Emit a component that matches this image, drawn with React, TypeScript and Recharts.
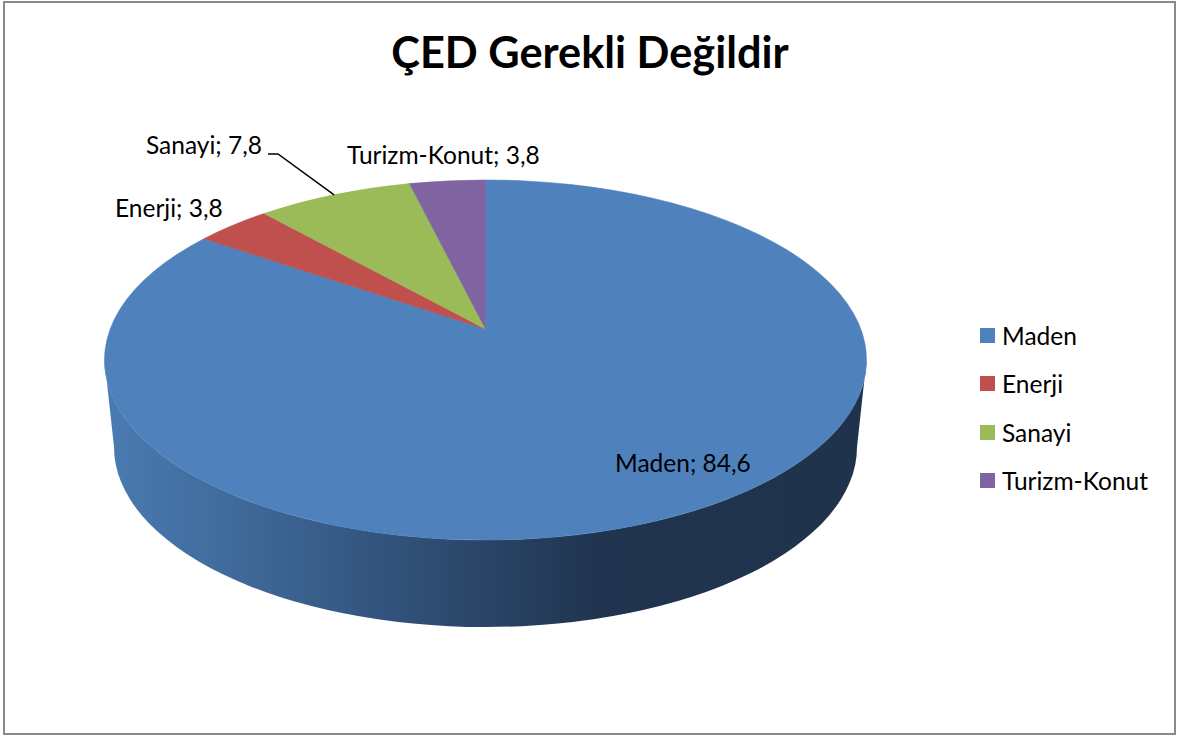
import { Legend, Pie, PieChart } from 'recharts';

const chartTitle = 'ÇED Gerekli Değildir';
const categories = ['Maden', 'Enerji', 'Sanayi', 'Turizm-Konut'];
const shares = [84.6, 3.8, 7.8, 3.8];
const sliceColors = ['#4f81bd', '#c0504d', '#9bbb59', '#8064a2'];

// left edge and baseline of each data label, same order as categories
const labelX = [615, 115, 146, 347];
const labelY = [472, 217, 154, 164];

const pieData = categories.map((name, i) => ({ name, value: shares[i], fill: sliceColors[i] }));

const FONT = 'Lato, sans-serif';
const FLATTEN = 180 / 381; // ellipse height / width of the top face
const PERSPECTIVE = 0.84; // pulls the apex towards the back of the ellipse
const DEPTH = 87;
const BOTTOM_INSET = 9.5;

// library angle -> point on the top rim, with the 3D tilt applied
function rimPoint(cx: number, cy: number, r: number, angle: number) {
  let theta = (angle - 90) % 360;
  if (theta > 180) theta -= 360;
  if (theta < -180) theta += 360;
  const t = 2 * Math.atan(PERSPECTIVE * Math.tan((theta * Math.PI) / 360));
  return { x: cx - r * Math.sin(t), y: cy - r * FLATTEN * Math.cos(t), t };
}

function Slice3D(props: any) {
  const { cx, cy, outerRadius: r, startAngle, endAngle, fill } = props;
  const ry = r * FLATTEN;
  const from = rimPoint(cx, cy, r, startAngle);
  const to = rimPoint(cx, cy, r, endAngle);
  const span = ((from.t - to.t) % (2 * Math.PI) + 2 * Math.PI) % (2 * Math.PI);
  const apexY = cy - ry * ((1 - PERSPECTIVE ** 2) / (1 + PERSPECTIVE ** 2));
  const top = `M${cx},${apexY} L${from.x},${from.y} A${r},${ry} 0 ${span > Math.PI ? 1 : 0} 1 ${to.x},${to.y} Z`;
  const hasFront = Math.max(startAngle, endAngle) >= 0 && Math.min(startAngle, endAngle) <= -180;
  const rb = r - BOTTOM_INSET;
  const wall = `M${cx - r},${cy} A${r},${ry} 0 0 0 ${cx + r},${cy} L${cx + rb},${cy + DEPTH} A${rb},${ry} 0 0 1 ${cx - rb},${cy + DEPTH} Z`;
  return (
    <g>
      {hasFront && <path d={wall} fill="url(#wallShade)" />}
      <path d={top} fill={fill} stroke={fill} strokeWidth={0.6} />
    </g>
  );
}

function DataLabel(props: any) {
  const { index, name, value, cx, cy, outerRadius, midAngle } = props;
  const text = `${name}; ${String(value).replace('.', ',')}`;
  const leader = name === 'Sanayi' ? rimPoint(cx, cy, outerRadius, midAngle) : null;
  return (
    <g>
      {leader && (
        <polyline
          points={`${labelX[index] + 122},${labelY[index]} ${labelX[index] + 132},${labelY[index]} ${leader.x},${leader.y}`}
          fill="none"
          stroke="#000"
          strokeWidth={1.5}
        />
      )}
      <text x={labelX[index]} y={labelY[index]} fontFamily={FONT} fontSize={24.5} fill="#000">
        {text}
      </text>
    </g>
  );
}

function LegendList({ payload }: any) {
  return (
    <div>
      {(payload ?? []).map((item: any) => (
        <div key={item.value} style={{ height: 48.3, display: 'flex', alignItems: 'center', fontFamily: FONT, fontSize: 24.5, color: '#000' }}>
          <span style={{ width: 15, height: 15, background: item.color, marginRight: 7 }} />
          {item.value}
        </div>
      ))}
    </div>
  );
}

export default function App() {
  return (
    <div style={{ position: 'absolute', left: 0, top: 0, background: '#fff' }}>
      <PieChart width={1180} height={736} margin={{ left: 0, right: 0, top: 0, bottom: 0 }}>
        <defs>
          <linearGradient id="wallShade" x1="0" x2="1" y1="0" y2="0">
            <stop offset="0%" stopColor="#4a7bb2" />
            <stop offset="20%" stopColor="#3e6796" />
            <stop offset="38%" stopColor="#31527a" />
            <stop offset="65%" stopColor="#20344f" />
            <stop offset="100%" stopColor="#1f334c" />
          </linearGradient>
        </defs>
        <rect x={4} y={2} width={1171} height={732} fill="none" stroke="#8a8a8a" strokeWidth={2} />
        <text x={590} y={68} textAnchor="middle" fontFamily={FONT} fontSize={43.3} fontWeight={700} fill="#000">
          {chartTitle}
        </text>
        <Pie
          data={pieData}
          dataKey="value"
          nameKey="name"
          cx={485.5}
          cy={360}
          outerRadius={381}
          startAngle={90}
          endAngle={-270}
          stroke="none"
          shape={Slice3D}
          label={DataLabel}
          labelLine={false}
          isAnimationActive={false}
        />
        <Legend
          content={LegendList}
          itemSorter={null}
          layout="vertical"
          wrapperStyle={{ position: 'absolute', left: 980, top: 311.5, width: 190 }}
        />
      </PieChart>
    </div>
  );
}
